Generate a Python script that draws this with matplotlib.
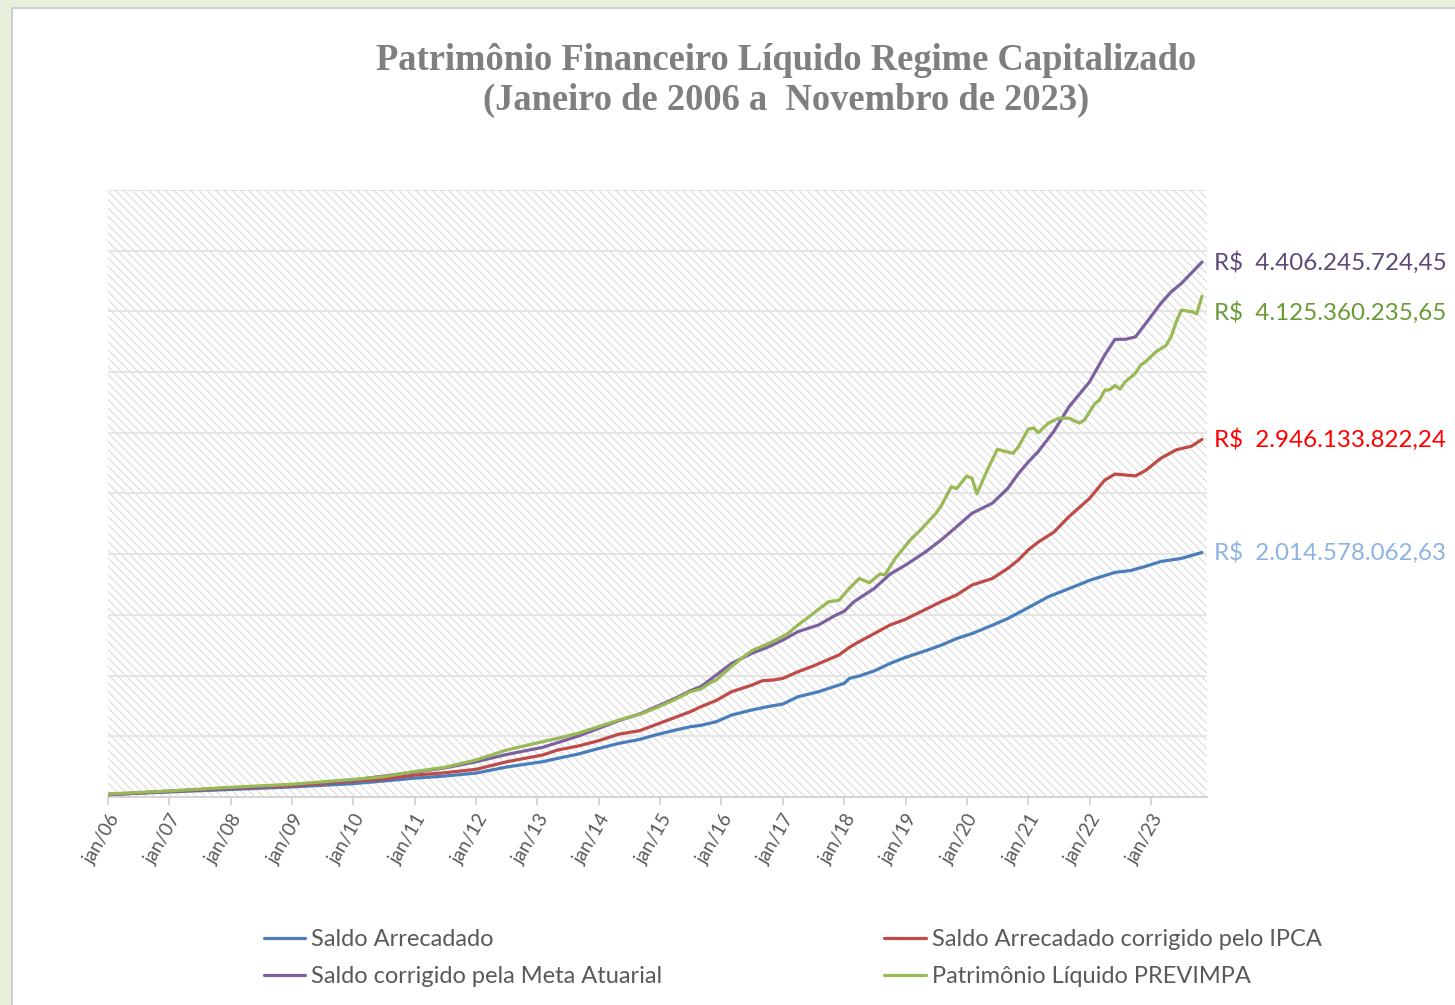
import numpy as np
import pandas as pd
import matplotlib
matplotlib.use("Agg")
import matplotlib.pyplot as plt
from matplotlib.patches import Rectangle
from matplotlib.ticker import FuncFormatter, MultipleLocator
import matplotlib.dates as mdates

# meses de jan/06 a nov/23 (indice 0 = jan/06)
meses = pd.date_range("2006-01-01", "2023-11-01", freq="MS")

# valores em bilhoes de R$ (indice do mes, valor)
arrec_idx = [0, 12, 24, 36, 48, 54, 60, 66, 72, 78, 85, 88, 92, 96, 100, 104, 107, 111, 114, 116,
             119, 122, 126, 129, 132, 135, 139, 142, 144, 145, 147, 150, 153, 156, 160, 163, 166, 169, 173, 176,
             180, 184, 187, 190, 192, 197, 200, 203, 206, 210, 214]
arrec_val = [0.02, 0.042, 0.062, 0.083, 0.11, 0.132, 0.155, 0.173, 0.197, 0.247, 0.291, 0.318, 0.354, 0.40, 0.442, 0.474, 0.51, 0.551, 0.579, 0.59,
             0.62, 0.675, 0.717, 0.744, 0.766, 0.826, 0.867, 0.909, 0.936, 0.977, 0.997, 1.04, 1.10, 1.15, 1.205, 1.25, 1.305, 1.346, 1.415, 1.47,
             1.56, 1.65, 1.70, 1.75, 1.785, 1.85, 1.865, 1.90, 1.94, 1.965, 2.0146]

ipca_idx = [0, 12, 24, 36, 48, 54, 60, 66, 72, 78, 85, 88, 92, 96, 100, 104, 107, 111, 114, 116,
            119, 122, 126, 128, 130, 132, 135, 138, 141, 143, 145, 147, 150, 153, 156, 160, 163, 166, 169, 173,
            176, 178, 180, 182, 185, 188, 192, 195, 197, 201, 203, 206, 209, 212, 214]
ipca_val = [0.02, 0.045, 0.07, 0.09, 0.13, 0.148, 0.18, 0.2, 0.228, 0.29, 0.346, 0.387, 0.42, 0.464, 0.518, 0.546, 0.593, 0.656, 0.703, 0.744,
            0.795, 0.867, 0.922, 0.958, 0.963, 0.977, 1.032, 1.079, 1.134, 1.17, 1.233, 1.28, 1.348, 1.417, 1.464, 1.546, 1.609, 1.664, 1.746, 1.8,
            1.883, 1.95, 2.035, 2.1, 2.18, 2.31, 2.46, 2.61, 2.66, 2.645, 2.69, 2.79, 2.86, 2.89, 2.946]

meta_idx = [0, 12, 24, 36, 48, 60, 66, 72, 78, 85, 88, 92, 96, 100, 104, 107, 111, 114, 116, 119,
            122, 126, 129, 132, 135, 139, 142, 144, 146, 150, 153, 156, 160, 163, 166, 169, 173, 176, 178, 180,
            182, 185, 188, 192, 195, 197, 199, 201, 203, 206, 208, 210, 214]
meta_val = [0.02, 0.048, 0.075, 0.1, 0.14, 0.205, 0.24, 0.29, 0.35, 0.409, 0.448, 0.502, 0.566, 0.629, 0.684, 0.739, 0.813, 0.876, 0.91, 1.004,
            1.10, 1.184, 1.233, 1.293, 1.362, 1.417, 1.49, 1.53, 1.609, 1.72, 1.836, 1.91, 2.02, 2.117, 2.226, 2.337, 2.42, 2.542, 2.66, 2.76,
            2.845, 3.01, 3.215, 3.42, 3.64, 3.77, 3.77, 3.79, 3.90, 4.066, 4.16, 4.23, 4.406]

pl_idx = [0, 12, 24, 36, 48, 54, 60, 66, 72, 78, 85, 88, 92, 96, 100, 104, 107, 111, 114, 116,
          118, 119, 122, 124, 126, 129, 131, 133, 135, 137, 139, 141, 143, 145, 147, 149, 151, 152, 154, 157,
          159, 162, 163, 165, 166, 168, 169, 170, 172, 174, 177, 178, 180, 181, 182, 184, 186, 188, 190, 191,
          193, 194, 195, 196, 197, 198, 199, 201, 202, 203, 205, 207, 208, 209, 210, 212, 213, 214]
pl_val = [0.025, 0.05, 0.08, 0.105, 0.145, 0.167, 0.21, 0.245, 0.305, 0.387, 0.456, 0.483, 0.525, 0.58, 0.634, 0.681, 0.73, 0.804, 0.868, 0.89,
          0.945, 0.964, 1.074, 1.143, 1.206, 1.26, 1.30, 1.348, 1.417, 1.48, 1.546, 1.609, 1.62, 1.72, 1.80, 1.765, 1.836, 1.83, 1.966, 2.122,
          2.20, 2.337, 2.397, 2.556, 2.54, 2.644, 2.625, 2.497, 2.69, 2.864, 2.83, 2.88, 3.03, 3.04, 3.0, 3.08, 3.12, 3.12, 3.08, 3.105,
          3.24, 3.27, 3.35, 3.355, 3.39, 3.36, 3.42, 3.49, 3.558, 3.586, 3.668, 3.72, 3.79, 3.915, 4.01, 3.998, 3.98, 4.125]

nomes = ["Saldo Arrecadado", "Saldo Arrecadado corrigido pelo IPCA",
         "Saldo corrigido pela Meta Atuarial", "Patrimônio Líquido PREVIMPA"]
rotulos_finais = ["R$  2.014.578.062,63", "R$  2.946.133.822,24",
                  "R$  4.406.245.724,45", "R$  4.125.360.235,65"]

cores = ["#4a7ebb", "#be4b48", "#7d60a0", "#98b954"]
cores_rotulo = ["#8db3e2", "#ff0000", "#5f497a", "#6a9a36"]
desloc_rotulo = [0, 0, 0, -12]

series = [(arrec_idx, arrec_val), (ipca_idx, ipca_val), (meta_idx, meta_val), (pl_idx, pl_val)]

FONTE = "Lato"
plt.rcParams["font.family"] = [FONTE, "DejaVu Sans"]
plt.rcParams["hatch.linewidth"] = 0.75

fig = plt.figure(figsize=(14.55, 10.05), dpi=100, facecolor="#e8f0dd")
# painel branco do slide
fig.patches.append(Rectangle((12 / 1455, -0.01), 1.0, 1 - 8 / 1005 + 0.01, transform=fig.transFigure,
                             facecolor="white", edgecolor="#cfcfcf", lw=1.5, zorder=-5))

ax = fig.add_axes([108 / 1455, 1 - 797 / 1005, 1099 / 1455, 607 / 1005], zorder=2)
ax.set_facecolor("white")
ax.add_patch(Rectangle((0, 0), 1, 1, transform=ax.transAxes, facecolor="white",
                       edgecolor="#d9d9d9", hatch="\\\\\\\\", lw=0, zorder=0))

for (idx, val), cor, nome in zip(series, cores, nomes):
    ax.plot(meses[idx], val, color=cor, lw=2.3, label=nome, zorder=3, solid_capstyle="round")

for (idx, val), txt, cor, dy in zip(series, rotulos_finais, cores_rotulo, desloc_rotulo):
    ax.annotate(txt, xy=(meses[idx[-1]], val[-1]), xytext=(9, dy), textcoords="offset points",
                ha="left", va="center", fontsize=17.4, color=cor, annotation_clip=False)

ax.set_ylim(0, 5)
ax.set_xlim(pd.Timestamp("2006-01-01"), pd.Timestamp("2023-12-01"))
ax.yaxis.set_major_locator(MultipleLocator(0.5))
ax.grid(axis="y", color="#e2e2e2", lw=1.2, zorder=1)
ax.set_axisbelow(True)
ax.tick_params(axis="y", left=False, labelleft=False)
for s in ["left", "right", "top"]:
    ax.spines[s].set_visible(False)
ax.spines["bottom"].set_color("#d0d0d0")
ax.spines["bottom"].set_linewidth(1.2)

ax.xaxis.set_major_locator(mdates.YearLocator(1, month=1, day=1))
ax.xaxis.set_major_formatter(FuncFormatter(lambda x, p: "jan/" + mdates.num2date(x).strftime("%y")))
ax.tick_params(axis="x", direction="out", length=6, width=1.2, color="#d0d0d0",
               labelsize=13.5, labelcolor="#595959", pad=4)
for lab in ax.get_xticklabels():
    lab.set_rotation(60)
    lab.set_ha("right")
    lab.set_va("top")
    lab.set_rotation_mode("anchor")

fig.text(786 / 1455, 1 - 60 / 1005, "Patrimônio Financeiro Líquido Regime Capitalizado",
         family=["Liberation Serif", "DejaVu Serif"], weight="bold", fontsize=26.3, color="#7f7f7f",
         ha="center", va="center")
fig.text(786 / 1455, 1 - 100 / 1005, "(Janeiro de 2006 a  Novembro de 2023)",
         family=["Liberation Serif", "DejaVu Serif"], weight="bold", fontsize=26.3, color="#7f7f7f",
         ha="center", va="center")

handles, labels = ax.get_legend_handles_labels()
ordem = [0, 2, 1, 3]
leg = fig.legend([handles[i] for i in ordem], [labels[i] for i in ordem], ncol=2, frameon=False,
                 loc="center left", bbox_to_anchor=(264 / 1455, 1 - 958 / 1005), fontsize=17,
                 labelcolor="#595959", handlelength=1.75, handletextpad=0.25, columnspacing=9.4,
                 labelspacing=0.66, borderaxespad=0, borderpad=0)

fig.savefig("out.png", dpi=100, facecolor=fig.get_facecolor())
